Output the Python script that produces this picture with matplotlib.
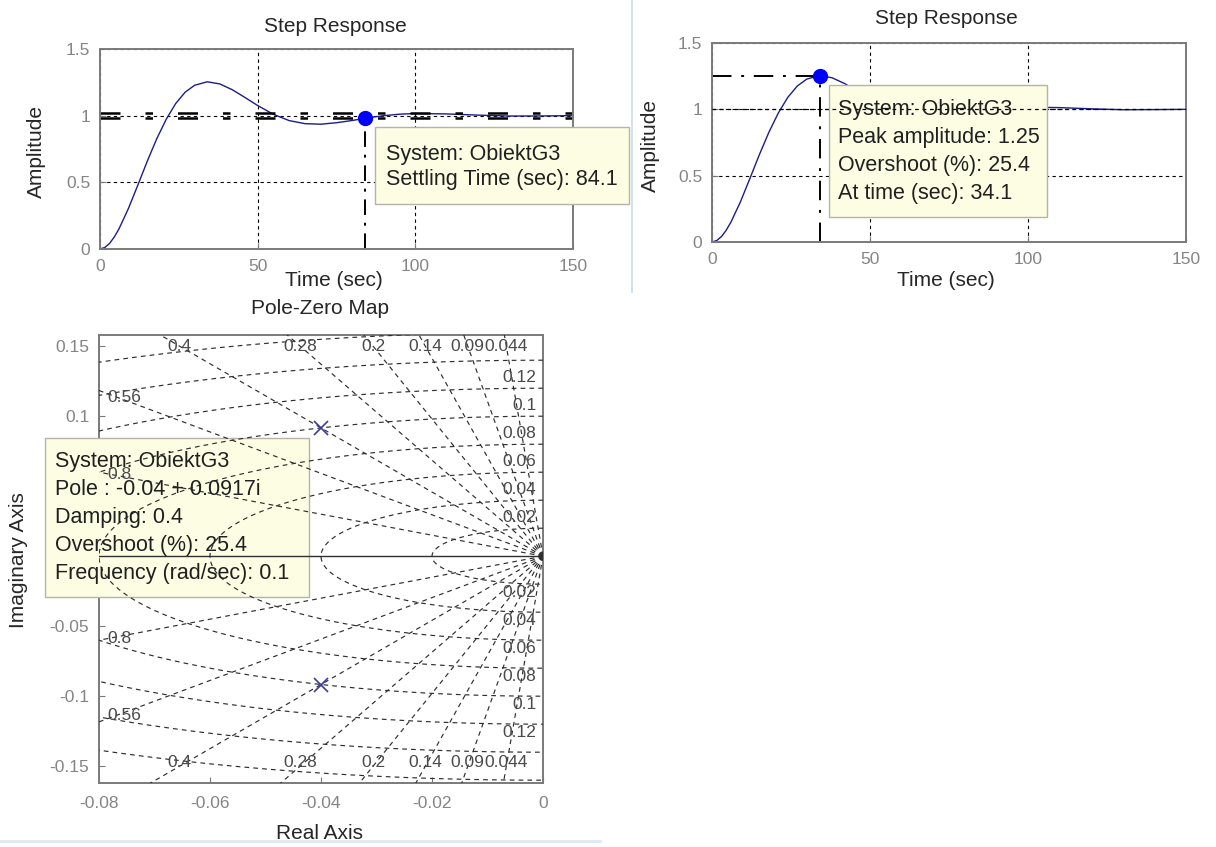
import numpy as np
import matplotlib
matplotlib.use("Agg")
import matplotlib.pyplot as plt
from matplotlib.patches import Rectangle
from matplotlib.lines import Line2D

plt.rcParams['font.family'] = ['Liberation Sans', 'DejaVu Sans']
plt.rcParams['axes.unicode_minus'] = False

W, H = 1216, 847

# step response
t_step = [0, 1.5, 3, 4.5, 6, 9, 12, 15, 18, 21, 24, 27, 30, 34, 38, 42, 46, 50, 55,
          60, 65, 70, 75, 80, 85, 90, 95, 100, 110, 120, 130, 140, 150]
y_step = [0, 0.011, 0.041, 0.089, 0.150, 0.303, 0.479, 0.659, 0.827, 0.973, 1.091,
          1.176, 1.228, 1.254, 1.238, 1.194, 1.136, 1.076, 1.010, 0.963, 0.940, 0.936,
          0.947, 0.964, 0.984, 1.000, 1.011, 1.016, 1.013, 1.004, 0.997, 0.998, 1.000]
settling_time = 84.1
settling_amp = 0.984
settle_band = [0.98, 1.02]
peak_time = 34.1
peak_amp = 1.25

step_xticks = [0, 50, 100, 150]
step_xlabels = ['0', '50', '100', '150']
step_yticks = [0, 0.5, 1, 1.5]
step_ylabels = ['0', '0.5', '1', '1.5']

# pole-zero map
pole_re = [-0.04, -0.04]
pole_im = [0.0917, -0.0917]
zetas = [0.044, 0.09, 0.14, 0.2, 0.28, 0.4, 0.56, 0.8]
zeta_labels = ['0.044', '0.09', '0.14', '0.2', '0.28', '0.4', '0.56', '0.8']
wns = [0.02, 0.04, 0.06, 0.08, 0.1, 0.12, 0.14, 0.16]
wn_labels = ['0.02', '0.04', '0.06', '0.08', '0.1', '0.12', '', '']
pz_xticks = [-0.08, -0.06, -0.04, -0.02, 0]
pz_xlabels = ['-0.08', '-0.06', '-0.04', '-0.02', '0']
pz_yticks = [-0.15, -0.1, -0.05, 0, 0.05, 0.1, 0.15]
pz_ylabels = ['-0.15', '-0.1', '-0.05', '0', '0.05', '0.1', '0.15']

tip1 = ['System: ObiektG3', 'Settling Time (sec): 84.1']
tip2 = ['System: ObiektG3', 'Peak amplitude: 1.25', 'Overshoot (%): 25.4', 'At time (sec): 34.1']
tip3 = ['System: ObiektG3', 'Pole : -0.04 + 0.0917i', 'Damping: 0.4',
        'Overshoot (%): 25.4', 'Frequency (rad/sec): 0.1']

TICKC = '#858585'
LABC = '#262626'
SPINEC = '#7a7a7a'
CURVEC = '#1c1c8c'
FS = 15


def rect(l, t, r, b):
    return [l / W, 1 - b / H, (r - l) / W, (b - t) / H]


def ftext(x, y, s, **kw):
    fig.text(x / W, 1 - y / H, s, **kw)


def style(ax):
    for sp in ax.spines.values():
        sp.set_color(SPINEC)
        sp.set_linewidth(1.4)
    ax.tick_params(direction='in', length=4, color=SPINEC, labelcolor=TICKC,
                   labelsize=12.5, pad=7)


def tooltip(ax, l, t, r, b, lines, y0, dy, tx, z=3):
    box = Rectangle((l / W, 1 - b / H), (r - l) / W, (b - t) / H,
                    transform=fig.transFigure, facecolor='#fdfde4',
                    edgecolor='#b4b4a8', lw=1.0, zorder=z, clip_on=False)
    ax.add_artist(box)
    for i, s in enumerate(lines):
        ax.text(tx / W, 1 - (y0 + i * dy) / H, s, transform=fig.transFigure,
                fontsize=15.5, color='#202020', va='center', ha='left',
                zorder=z + 3, clip_on=False)


fig = plt.figure(figsize=(W / 100, H / 100), dpi=100)

# ---------- top-left: settling time ----------
ax1 = fig.add_axes(rect(100, 49, 573, 249))
style(ax1)
ax1.set_xlim(0, 150)
ax1.set_ylim(0, 1.5)
ax1.set_xticks(step_xticks)
ax1.set_xticklabels(step_xlabels)
ax1.set_yticks(step_yticks)
ax1.set_yticklabels(step_ylabels)
ax1.grid(True, color='k', linestyle=(0, (3, 3)), lw=0.8)
ax1.plot(t_step, y_step, color=CURVEC, lw=1.0, zorder=2)
for yb in settle_band:
    ax1.axhline(yb, color='k', lw=1.8, linestyle=(0, (8, 10, 3, 10)), zorder=2.2)
ax1.plot([settling_time, settling_time], [0, settling_amp], color='k', lw=1.4,
         linestyle=(0, (8, 4, 1.5, 4)), zorder=2.3)
ax1.plot([settling_time], [settling_amp], 'o', color='#0000ff', ms=10, zorder=2.5)
tooltip(ax1, 375, 127, 629, 204, tip1, 154, 26, 386)

# ---------- top-right: peak response ----------
ax2 = fig.add_axes(rect(712, 43, 1186, 242))
style(ax2)
ax2.set_xlim(0, 150)
ax2.set_ylim(0, 1.5)
ax2.set_xticks(step_xticks)
ax2.set_xticklabels(step_xlabels)
ax2.set_yticks(step_yticks)
ax2.set_yticklabels(step_ylabels)
ax2.grid(True, color='k', linestyle=(0, (3, 3)), lw=0.8)
ax2.plot(t_step, y_step, color=CURVEC, lw=1.0, zorder=2)
ax2.plot([0, peak_time], [peak_amp, peak_amp], color='k', lw=1.4,
         linestyle=(0, (10, 5, 1.5, 5)), zorder=2.3)
ax2.plot([peak_time, peak_time], [0, peak_amp], color='k', lw=1.4,
         linestyle=(0, (10, 5, 1.5, 5)), zorder=2.3)
ax2.plot([peak_time], [peak_amp], 'o', color='#0000ff', ms=10, zorder=2.5)
tooltip(ax2, 829, 85, 1047, 217, tip2, 109, 28, 838)
ax2.axhline(1, color='k', linestyle=(0, (3, 3)), lw=0.9, zorder=4)

# ---------- bottom-left: pole-zero map ----------
ax3 = fig.add_axes(rect(99, 335, 543, 783))
style(ax3)
ax3.set_xlim(-0.08, 0)
ax3.set_ylim(-0.162, 0.158)
ax3.set_xticks(pz_xticks)
ax3.set_xticklabels(pz_xlabels)
ax3.set_yticks(pz_yticks)
ax3.set_yticklabels(pz_ylabels)
ax3.tick_params(axis='x', pad=9)

GRIDC = '#2e2e2e'
gls = (0, (4, 3.5))
for z in zetas:
    s = np.sqrt(1 - z ** 2)
    for sg in (1, -1):
        ax3.plot([0, -0.4 * z], [0, sg * 0.4 * s], color=GRIDC, lw=0.85,
                 linestyle=gls, zorder=4)
ang = np.linspace(np.pi / 2, 3 * np.pi / 2, 400)
for wn in wns:
    ax3.plot(wn * np.cos(ang), wn * np.sin(ang), color=GRIDC, lw=0.85,
             linestyle=gls, zorder=4)
ax3.plot([-0.08, 0], [0, 0], color='#303030', lw=1.0, zorder=4)

for z, lab in zip(zetas, zeta_labels):
    s = np.sqrt(1 - z ** 2)
    xe = -0.15 * z / s
    if xe > -0.076:
        for sg in (1, -1):
            ax3.text(xe, sg * 0.150 + (0.003 if sg < 0 else 0), lab, fontsize=12.5,
                     color='#4a4a4a', ha='center', va='center', zorder=5)
    else:
        ye = 0.0755 * s / z
        for sg in (1, -1):
            ax3.text(-0.0785, sg * (ye + 0.002), lab, fontsize=12.5, color='#4a4a4a',
                     ha='left', va='center', zorder=5)
for wn, lab in zip(wns, wn_labels):
    if lab:
        ax3.text(-0.0012, wn + 0.008, lab, fontsize=12.5, color='#4a4a4a',
                 ha='right', va='center', zorder=5)
        ax3.text(-0.0012, -wn - 0.006, lab, fontsize=12.5, color='#4a4a4a',
                 ha='right', va='center', zorder=5)

ax3.plot(pole_re, pole_im, 'x', color='#3b3b9e', ms=10, mew=1.2, zorder=5)
tooltip(ax3, 45, 438, 309, 597, tip3, 462, 27.8, 55)

# ---------- titles and labels ----------
ftext(335, 26, 'Step Response', fontsize=FS, color=LABC, ha='center', va='center')
ftext(334, 280, 'Time (sec)', fontsize=FS, color=LABC, ha='center', va='center')
ftext(36, 152, 'Amplitude', fontsize=FS, color=LABC, ha='center', va='center',
      rotation=90)
ftext(946, 19, 'Step Response', fontsize=FS, color=LABC, ha='center', va='center')
ftext(946, 280, 'Time (sec)', fontsize=FS, color=LABC, ha='center', va='center')
ftext(650, 145, 'Amplitude', fontsize=FS, color=LABC, ha='center', va='center',
      rotation=90)
ftext(320, 308, 'Pole-Zero Map', fontsize=FS, color=LABC, ha='center', va='center')
ftext(320, 833, 'Real Axis', fontsize=FS, color=LABC, ha='center', va='center')
ftext(19, 560, 'Imaginary Axis', fontsize=FS, color=LABC, ha='center', va='center',
      rotation=90)

# screenshot seams
fig.add_artist(Line2D([632 / W, 632 / W], [1, 1 - 292 / H], color='#c9dced', lw=1.2))
fig.add_artist(Line2D([0, 600 / W], [1 - 841 / H, 1 - 841 / H], color='#dde8f1', lw=2))

fig.savefig('out.png', dpi=100)
